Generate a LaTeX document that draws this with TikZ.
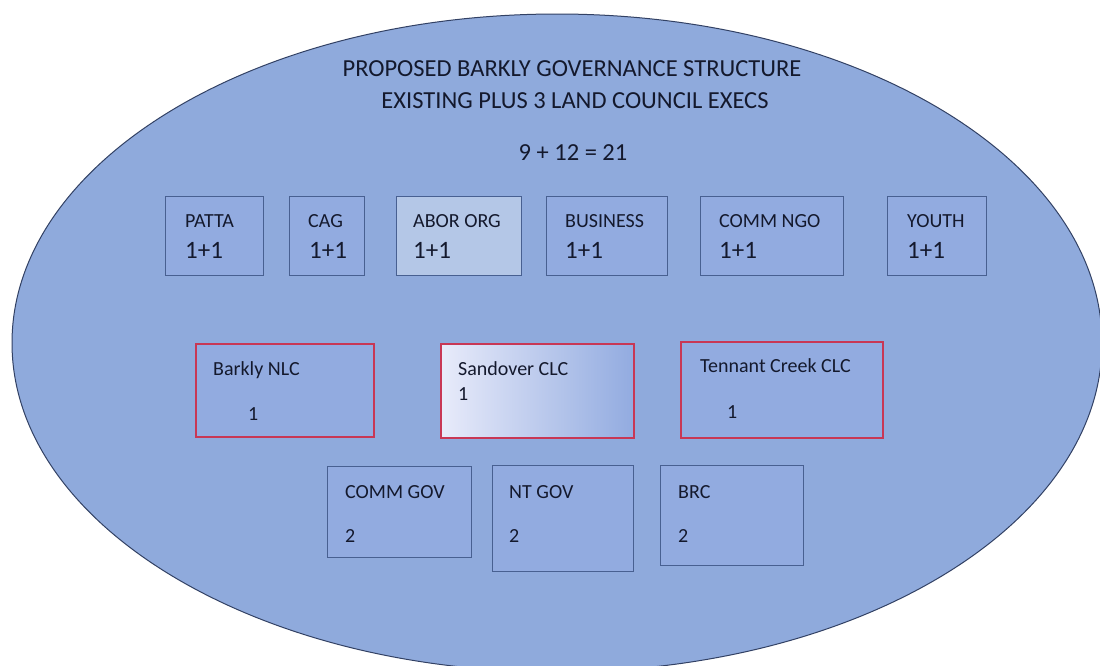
\documentclass[tikz,border=0pt]{standalone}
\usepackage{fontspec}
\setmainfont{Carlito}
\definecolor{ellfill}{RGB}{143,170,220}
\definecolor{boxfill}{RGB}{146,171,224}
\definecolor{aborfill}{RGB}{180,199,231}
\definecolor{boxline}{RGB}{72,96,145}
\definecolor{redline}{RGB}{200,55,85}
\definecolor{txt}{RGB}{20,25,45}
\definecolor{ellline}{RGB}{50,65,100}
\definecolor{gradleft}{RGB}{232,235,250}
\begin{document}
\begin{tikzpicture}[x=1pt,y=-1pt,
  box/.style={draw=boxline, line width=1.3pt, fill=boxfill, anchor=north west, inner sep=0pt},
  redbox/.style={draw=redline, line width=1.8pt, fill=boxfill, anchor=north west, inner sep=0pt},
  lbl/.style={anchor=base west, inner sep=0pt, text=txt, font=\fontsize{20}{24}\selectfont},
  num/.style={anchor=base west, inner sep=0pt, text=txt, font=\fontsize{25}{30}\selectfont},
  ttl/.style={anchor=base, inner sep=0pt, text=txt, font=\fontsize{24.5}{29}\selectfont}]
\useasboundingbox (0,0) rectangle (1100,665);
\fill[white] (0,0) rectangle (1100,665);
\begin{scope}
\clip (0,0) rectangle (1100,665);
\draw[ellline, line width=1pt, fill=ellfill] (557,343) ellipse [x radius=545, y radius=329];
\end{scope}
% titles
\node[ttl] (t1) at (572,76) {PROPOSED BARKLY GOVERNANCE STRUCTURE};
\node[ttl] (t2) at (575,108) {EXISTING PLUS 3 LAND COUNCIL EXECS};
\node[ttl] (t3) at (573,160) {9 + 12 = 21};
% top row
\node[box, minimum width=98pt, minimum height=79pt] (patta) at (165,196) {};
\node[box, minimum width=75pt, minimum height=79pt] (cag) at (289,196) {};
\node[box, fill=aborfill, minimum width=125pt, minimum height=79pt] (abor) at (396,196) {};
\node[box, minimum width=121pt, minimum height=79pt] (bus) at (546,196) {};
\node[box, minimum width=143pt, minimum height=79pt] (ngo) at (700,196) {};
\node[box, minimum width=99pt, minimum height=79pt] (youth) at (887,196) {};
\node[lbl] (pattaT) at (185,227) {PATTA};
\node[num] (pattaN) at (185,258) {1+1};
\node[lbl] (cagT) at (308,227) {CAG};
\node[num] (cagN) at (309,258) {1+1};
\node[lbl] (aborT) at (413,227) {ABOR ORG};
\node[num] (aborN) at (413,258) {1+1};
\node[lbl] (busT) at (565,227) {BUSINESS};
\node[num] (busN) at (565,258) {1+1};
\node[lbl] (ngoT) at (719,227) {COMM NGO};
\node[num] (ngoN) at (719,258) {1+1};
\node[lbl] (youthT) at (907,227) {YOUTH};
\node[num] (youthN) at (907,258) {1+1};
% middle row
\node[redbox, minimum width=178pt, minimum height=93pt] (nlc) at (195,343) {};
\node[redbox, left color=gradleft, right color=boxfill, minimum width=193pt, minimum height=94pt] (sand) at (440,343) {};
\node[redbox, minimum width=202pt, minimum height=96pt] (tc) at (680,341) {};
\node[lbl] (nlcT) at (213,375) {Barkly NLC};
\node[lbl] (nlcN) at (248,420) {1};
\node[lbl] (sandT) at (458,375) {Sandover CLC};
\node[lbl] (sandN) at (458,400) {1};
\node[lbl] (tcT) at (700,372) {Tennant Creek CLC};
\node[lbl] (tcN) at (727,418) {1};
% bottom row
\node[box, minimum width=144pt, minimum height=91pt] (cgov) at (327,466) {};
\node[box, minimum width=141pt, minimum height=106pt] (ntgov) at (492,465) {};
\node[box, minimum width=143pt, minimum height=100pt] (brc) at (660,465) {};
\node[lbl] (cgovT) at (345,498) {COMM GOV};
\node[lbl] (cgovN) at (345,542) {2};
\node[lbl] (ntgovT) at (509,498) {NT GOV};
\node[lbl] (ntgovN) at (509,542) {2};
\node[lbl] (brcT) at (678,498) {BRC};
\node[lbl] (brcN) at (678,542) {2};
\end{tikzpicture}
\end{document}
